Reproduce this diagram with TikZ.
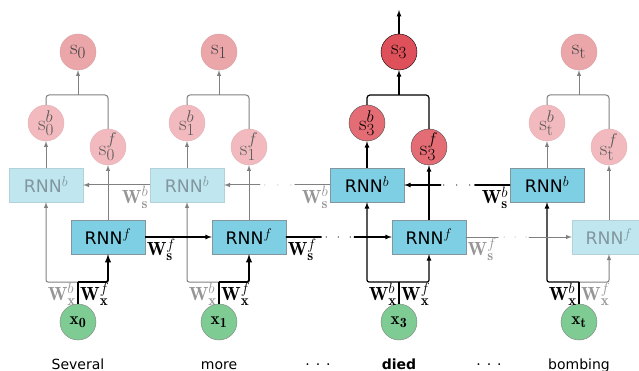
\RequirePackage{fix-cm}
\documentclass[tikz,border=0pt]{standalone}
\usepackage{fontspec}
\setsansfont{DejaVu Sans}
\usetikzlibrary{positioning,calc}
\DeclareMathSizes{21}{21}{17}{12}
\DeclareMathSizes{19}{19}{15}{11}
\DeclareMathSizes{17.28}{17.28}{14}{10}

\definecolor{boxon}{RGB}{126,207,228}
\definecolor{boxoff}{RGB}{192,230,240}
\definecolor{boxline}{RGB}{130,150,158}
\definecolor{sdark}{RGB}{222,80,90}
\definecolor{smid}{RGB}{228,108,116}
\definecolor{soff}{RGB}{235,166,170}
\definecolor{sfaint}{RGB}{242,186,190}
\definecolor{xgreen}{RGB}{126,203,147}
\definecolor{lineoff}{RGB}{128,128,128}
\definecolor{textoff}{RGB}{150,150,150}

\begin{document}
\begin{tikzpicture}[x=1pt,y=-1pt,
  rnn_on/.style={draw=boxline,fill=boxon,minimum width=74pt,minimum height=34pt,inner sep=0pt,font=\sffamily\LARGE},
  rnn_off/.style={rnn_on,fill=boxoff,draw=boxoff!80!gray,text=boxline},
  s_top/.style={circle,draw=black,fill=sdark,minimum size=36pt,inner sep=0pt,font=\fontsize{21}{21}\selectfont},
  s_on/.style={s_top,draw=black!70,fill=smid},
  s_off/.style={s_top,draw=soff!80!gray,fill=soff,text=black!75},
  s_faint/.style={s_top,draw=sfaint!85!gray,fill=sfaint,text=black!65},
  x_node/.style={circle,draw=gray,fill=xgreen,minimum size=36pt,inner sep=0pt,font=\LARGE},
  w_lab/.style={inner sep=1pt,font=\fontsize{19}{19}\selectfont},
  w_off/.style={w_lab,text=textoff},
  edge_on/.style={draw=black,line width=1.2pt},
  edge_thick/.style={draw=black,line width=1.8pt},
  edge_off/.style={draw=lineoff,line width=1pt},
  word/.style={anchor=base,font=\sffamily\fontsize{14}{14}\selectfont}
  ]
  \useasboundingbox (0,0) rectangle (639,371);

  % column 0
  \node[x_node] (x0) at (78,322) {$\mathbf{x}_{\mathbf{0}}$};
  \node[rnn_off] (rb0) at (46,185) {RNN$^{b}$};
  \node[rnn_on] (rf0) at (108,237) {RNN$^{f}$};
  \node[s_faint] (sb0) at (46,123) {$\mathrm{s}_0^{b}$};
  \node[s_faint] (sf0) at (108,147) {$\mathrm{s}_0^{f}$};
  \node[s_off] (s0) at (78,52) {$\mathrm{s}_0$};
  \coordinate (b0) at (78,282);
  \coordinate (m0) at (78,95);

  % column 1
  \node[x_node] (x1) at (219,322) {$\mathbf{x}_{\mathbf{1}}$};
  \node[rnn_off] (rb1) at (187,185) {RNN$^{b}$};
  \node[rnn_on] (rf1) at (249,237) {RNN$^{f}$};
  \node[s_faint] (sb1) at (187,123) {$\mathrm{s}_1^{b}$};
  \node[s_faint] (sf1) at (249,147) {$\mathrm{s}_1^{f}$};
  \node[s_off] (s1) at (219,52) {$\mathrm{s}_1$};
  \coordinate (b1) at (219,282);
  \coordinate (m1) at (219,95);

  % column 3
  \node[x_node] (x3) at (399,322) {$\mathbf{x}_{\mathbf{3}}$};
  \node[rnn_on] (rb3) at (367,185) {RNN$^{b}$};
  \node[rnn_on] (rf3) at (429,237) {RNN$^{f}$};
  \node[s_on] (sb3) at (367,123) {$\mathrm{s}_3^{b}$};
  \node[s_on] (sf3) at (429,147) {$\mathrm{s}_3^{f}$};
  \node[s_top] (s3) at (399,52) {$\mathrm{s}_3$};
  \coordinate (b3) at (399,282);
  \coordinate (m3) at (399,95);
  \coordinate (out3) at (399,10);

  % column t
  \node[x_node] (xt) at (579,322) {$\mathbf{x}_{\mathbf{t}}$};
  \node[rnn_on] (rbt) at (547,185) {RNN$^{b}$};
  \node[rnn_off] (rft) at (609,237) {RNN$^{f}$};
  \node[s_faint] (sbt) at (547,123) {$\mathrm{s}_\mathrm{t}^{b}$};
  \node[s_faint] (sft) at (609,147) {$\mathrm{s}_\mathrm{t}^{f}$};
  \node[s_off] (st) at (579,52) {$\mathrm{s}_\mathrm{t}$};
  \coordinate (bt) at (579,282);
  \coordinate (mt) at (579,95);

  % inputs
  \draw[edge_off,-latex,rounded corners=2pt] (b0) -| (rb0.south);
  \draw[edge_thick] (x0) -- (b0);
  \draw[edge_thick,-latex,rounded corners=2pt] (b0) -| (rf0.south);
  \node[w_off,anchor=north east] at ($(b0)+(-1,0)$) {$\mathbf{W}_{\mathbf{x}}^{b}$};
  \node[w_lab,anchor=north west] at ($(b0)+(1,0)$) {$\mathbf{W}_{\mathbf{x}}^{f}$};

  \draw[edge_off,-latex,rounded corners=2pt] (b1) -| (rb1.south);
  \draw[edge_thick] (x1) -- (b1);
  \draw[edge_thick,-latex,rounded corners=2pt] (b1) -| (rf1.south);
  \node[w_off,anchor=north east] at ($(b1)+(-1,0)$) {$\mathbf{W}_{\mathbf{x}}^{b}$};
  \node[w_lab,anchor=north west] at ($(b1)+(1,0)$) {$\mathbf{W}_{\mathbf{x}}^{f}$};

  \draw[edge_on] (x3) -- (b3);
  \draw[edge_on,-latex,rounded corners=2pt] (b3) -| (rb3.south);
  \draw[edge_on,-latex,rounded corners=2pt] (b3) -| (rf3.south);
  \node[w_lab,anchor=north east] at ($(b3)+(-1,0)$) {$\mathbf{W}_{\mathbf{x}}^{b}$};
  \node[w_lab,anchor=north west] at ($(b3)+(1,0)$) {$\mathbf{W}_{\mathbf{x}}^{f}$};

  \draw[edge_off,-latex,rounded corners=2pt] (bt) -| (rft.south);
  \draw[edge_on] (xt) -- (bt);
  \draw[edge_on,-latex,rounded corners=2pt] (bt) -| (rbt.south);
  \node[w_lab,anchor=north east] at ($(bt)+(-1,0)$) {$\mathbf{W}_{\mathbf{x}}^{b}$};
  \node[w_off,anchor=north west] at ($(bt)+(1,0)$) {$\mathbf{W}_{\mathbf{x}}^{f}$};

  % forward chain
  \draw[edge_on,-latex] (rf0) -- (rf1) node[pos=0,w_lab,anchor=north west]{$\mathbf{W}_{\mathbf{s}}^{f}$};
  \draw[edge_on,-latex,line cap=round,dash pattern=on 35pt off 5pt on 0pt off 12pt on 0pt off 12pt on 0pt off 4pt on 100pt]
    (rf1.east) -- (rf3.west) node[pos=0,w_lab,anchor=north west]{$\mathbf{W}_{\mathbf{s}}^{f}$};
  \draw[edge_off,-latex,line cap=round,dash pattern=on 32pt off 6pt on 0pt off 11pt on 0pt off 11pt on 0pt off 3pt on 100pt]
    (rf3.east) -- (rft.west) node[pos=0,w_off,anchor=north west]{$\mathbf{W}_{\mathbf{s}}^{f}$};

  % backward chain
  \draw[edge_off,-latex] (rb1) -- (rb0) node[pos=0,w_off,anchor=north east]{$\mathbf{W}_{\mathbf{s}}^{b}$};
  \draw[edge_off,-latex,line cap=round,dash pattern=on 35pt off 4pt on 0pt off 13pt on 0pt off 13pt on 0pt off 5pt on 100pt]
    (rb3.west) -- (rb1.east) node[pos=0,w_off,anchor=north east]{$\mathbf{W}_{\mathbf{s}}^{b}$};
  \draw[edge_on,-latex,line cap=round,dash pattern=on 35pt off 5pt on 0pt off 13pt on 0pt off 13pt on 0pt off 3pt on 100pt]
    (rbt.west) -- (rb3.east) node[pos=0,w_lab,anchor=north east]{$\mathbf{W}_{\mathbf{s}}^{b}$};

  % outputs
  \draw[edge_off,-latex] (rb0) -- (sb0);
  \draw[edge_off,-latex] (rf0) -- (sf0);
  \draw[edge_off,rounded corners=3pt] (sb0.north) |- (m0) -| (sf0.north);
  \draw[edge_off,-latex] (m0) -- (s0);

  \draw[edge_off,-latex] (rb1) -- (sb1);
  \draw[edge_off,-latex] (rf1) -- (sf1);
  \draw[edge_off,rounded corners=3pt] (sb1.north) |- (m1) -| (sf1.north);
  \draw[edge_off,-latex] (m1) -- (s1);

  \draw[edge_on,-latex] (rb3) -- (sb3);
  \draw[edge_on,-latex] (rf3) -- (sf3);
  \draw[edge_on,rounded corners=3pt] (sb3.north) |- (m3) -| (sf3.north);
  \draw[edge_on,-latex] (m3) -- (s3);
  \draw[edge_on,-latex] (s3) -- (out3);

  \draw[edge_off,-latex] (rbt) -- (sbt);
  \draw[edge_off,-latex] (rft) -- (sft);
  \draw[edge_off,rounded corners=3pt] (sbt.north) |- (mt) -| (sft.north);
  \draw[edge_off,-latex] (mt) -- (st);

  % words
  \node[word] (w0) at (78,369) {Several};
  \node[word] (w1) at (219,369) {more};
  \node[word] (wd1) at (318,369) {·\hspace{6pt}·\hspace{6pt}·};
  \node[word] (w3) at (399,369) {\bfseries died};
  \node[word] (wd3) at (489,369) {·\hspace{6pt}·\hspace{6pt}·};
  \node[word] (wt) at (579,369) {bombing};
\end{tikzpicture}
\end{document}
